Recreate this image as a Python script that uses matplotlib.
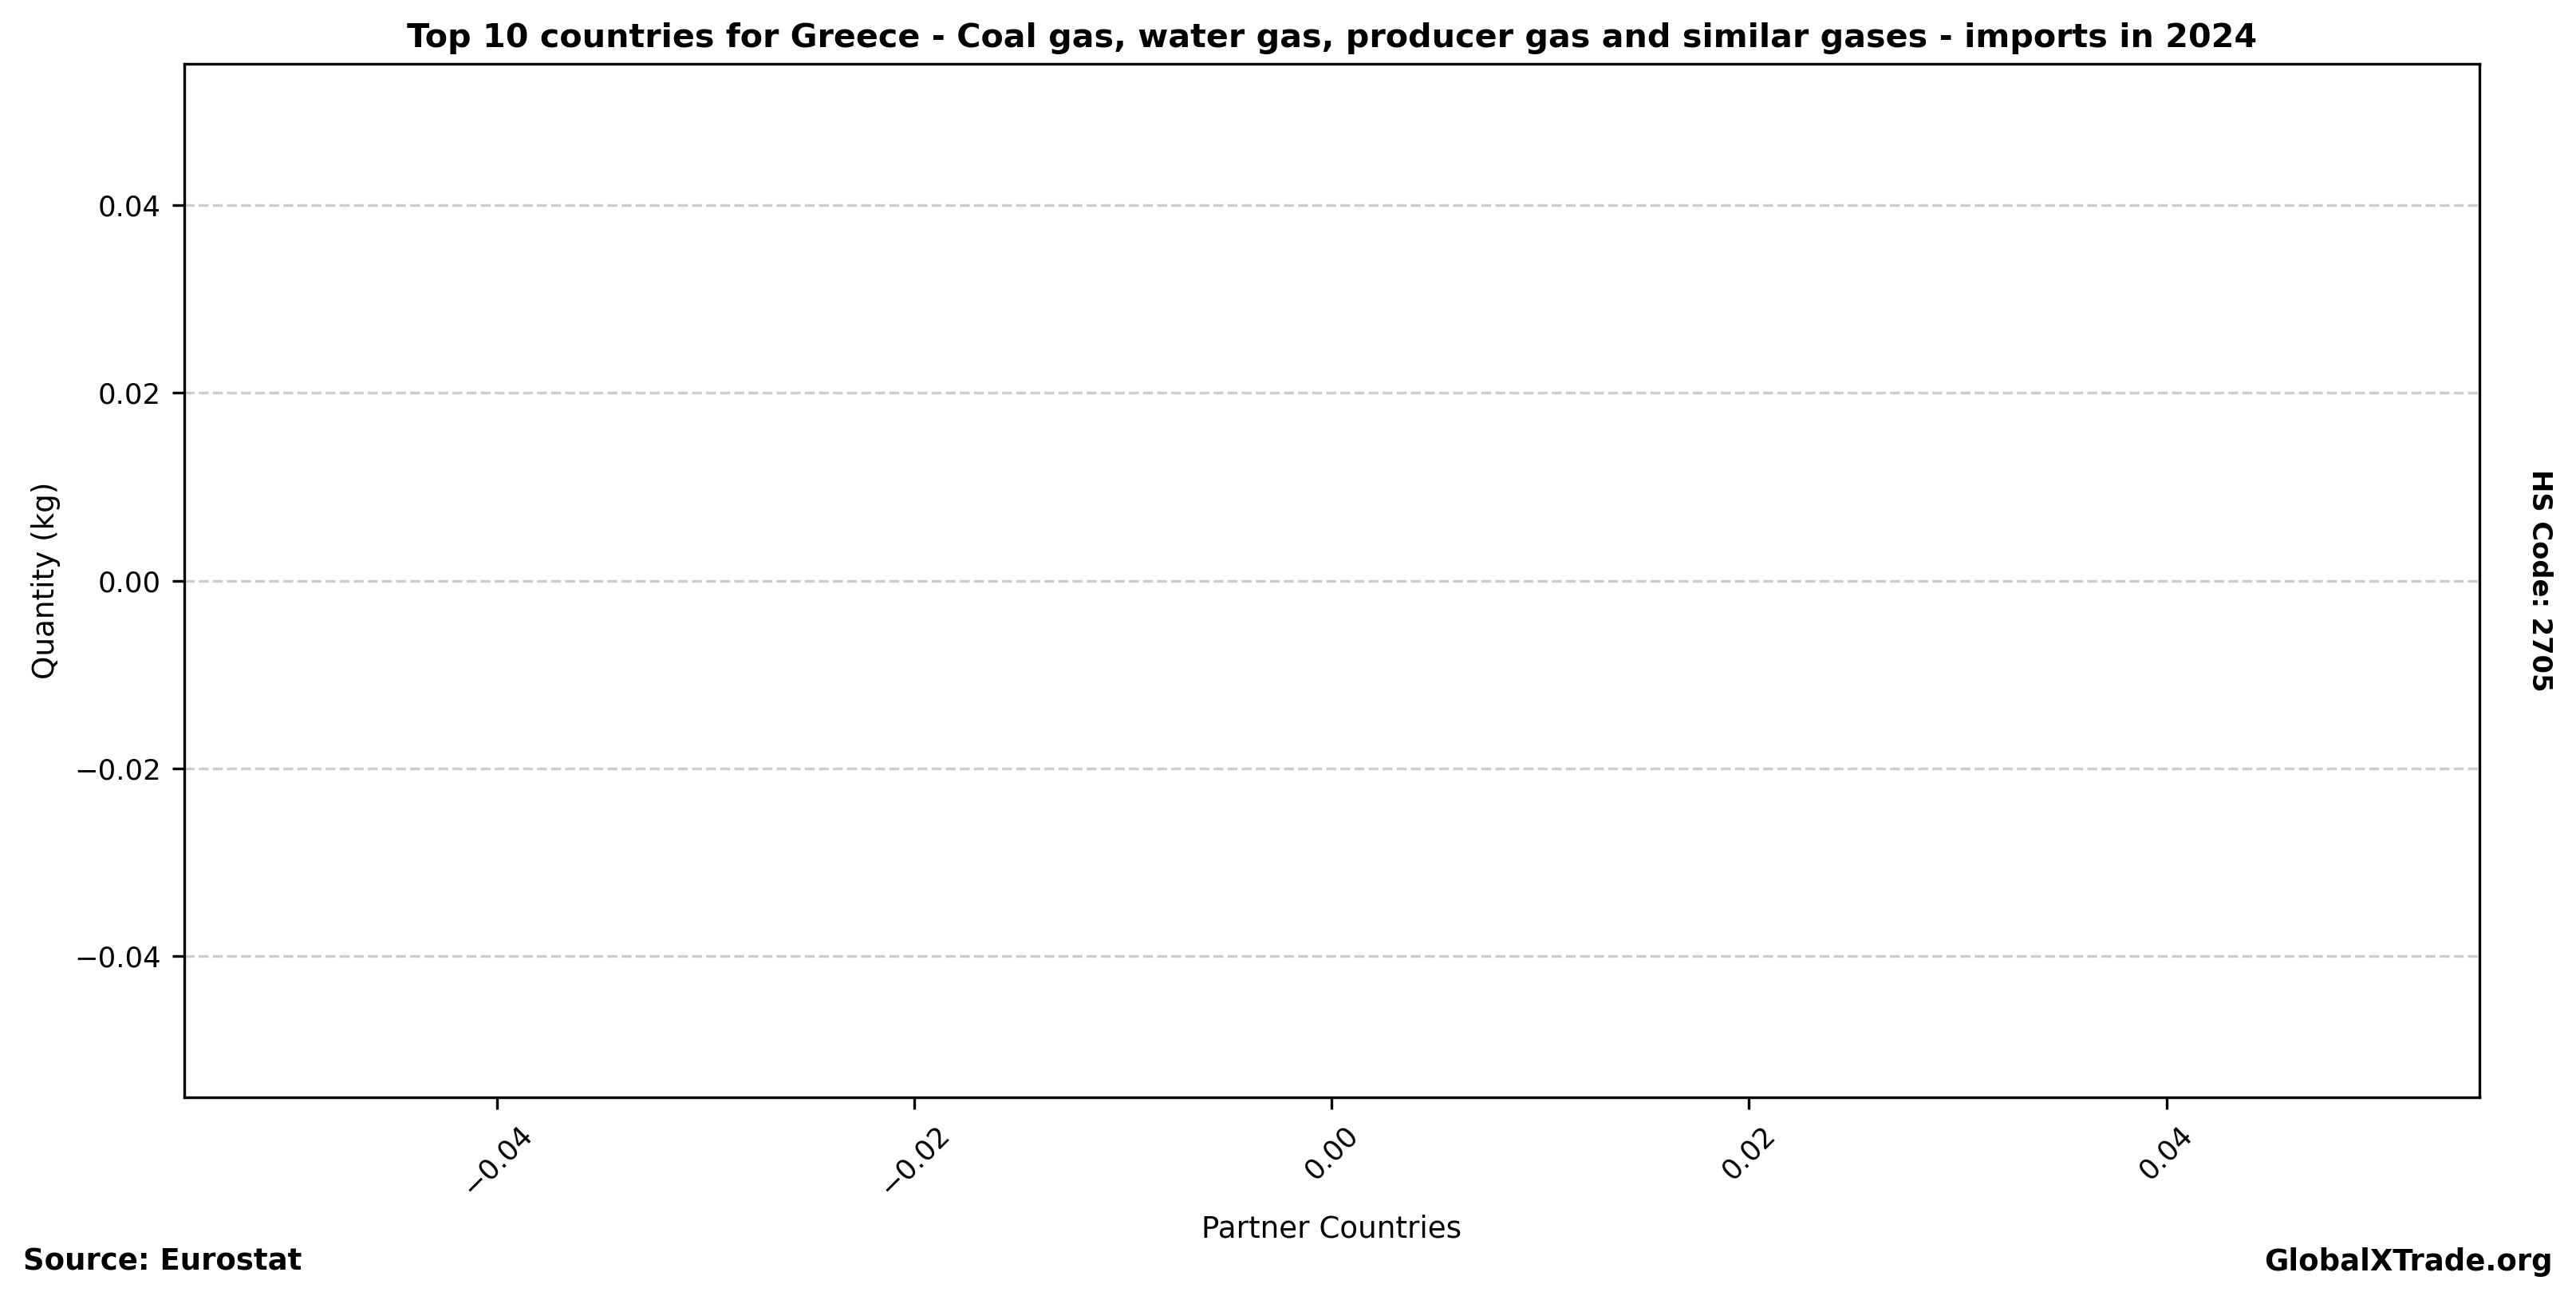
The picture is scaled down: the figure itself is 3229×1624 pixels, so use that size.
#!/usr/bin/env python3
"""Top partner countries bar chart (no partner data reported for this HS code)."""

import matplotlib

matplotlib.use("Agg")
import matplotlib.pyplot as plt

REPORTER = "Greece"
PRODUCT = "Coal gas, water gas, producer gas and similar gases"
HS_CODE = "2705"
FLOW = "imports"
YEAR = 2024

# no partner rows came back for this product/year
countries: list[str] = []
quantities_kg: list[float] = []

DPI = 300


def main() -> None:
    fig = plt.figure(figsize=(3229 / DPI, 1624 / DPI), dpi=DPI)
    ax = fig.add_axes([0.0715, 0.1533, 0.8910, 0.7974])

    ax.bar(countries, quantities_kg, color="#1f77b4")

    ax.set_title(
        f"Top 10 countries for {REPORTER} - {PRODUCT} - {FLOW} in {YEAR}",
        fontsize=9.9,
        fontweight="bold",
        pad=5,
    )
    ax.set_xlabel("Partner Countries", fontsize=8.95)
    ax.set_ylabel("Quantity (kg)", fontsize=8.95)
    ax.tick_params(axis="both", labelsize=8.5)
    plt.setp(ax.get_xticklabels(), rotation=45)
    ax.grid(axis="y", linestyle="--", color="#cccccc", alpha=1.0)
    ax.set_axisbelow(True)

    fig.text(0.009, 0.020, "Source: Eurostat", fontsize=8.9, fontweight="bold", ha="left", va="baseline")
    fig.text(0.991, 0.020, "GlobalXTrade.org", fontsize=8.9, fontweight="bold", ha="right", va="baseline")
    fig.text(0.986, 0.552, f"HS Code: {HS_CODE}", fontsize=8.1, fontweight="bold",
             rotation=270, ha="center", va="center")

    fig.savefig("out.png", dpi=DPI)
    plt.close(fig)


if __name__ == "__main__":
    main()
